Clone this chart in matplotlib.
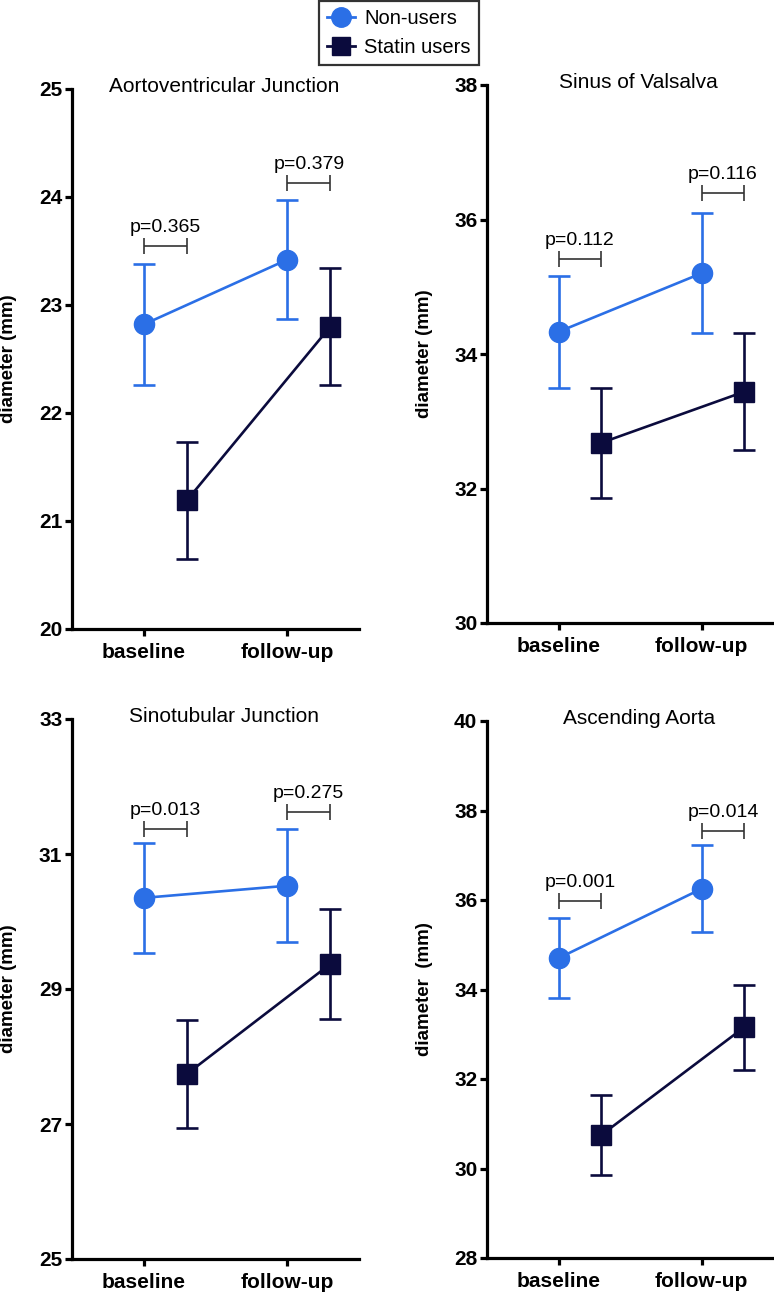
import matplotlib
matplotlib.use("Agg")
import matplotlib.pyplot as plt
from matplotlib.lines import Line2D

plt.rcParams['font.family'] = ['Liberation Sans', 'DejaVu Sans']

BLUE = '#2b6fe6'  # non-users
NAVY = '#0b0b3d'  # statin users

time_points = ['baseline', 'follow-up']
panel_titles = ['Aortoventricular Junction', 'Sinus of Valsalva',
                'Sinotubular Junction', 'Ascending Aorta']
y_labels = ['diameter (mm)', 'diameter (mm)', 'diameter (mm)', 'diameter  (mm)']

# mean +/- error per panel, [baseline, follow-up]
nonusers_mean = [[22.82, 23.42], [34.33, 35.20], [30.35, 30.53], [34.70, 36.25]]
nonusers_err = [[0.56, 0.55], [0.83, 0.89], [0.81, 0.84], [0.90, 0.97]]
statin_mean = [[21.19, 22.80], [32.68, 33.44], [27.74, 29.37], [30.75, 33.16]]
statin_err = [[0.54, 0.545], [0.82, 0.87], [0.80, 0.82], [0.89, 0.95]]

p_labels = [['p=0.365', 'p=0.379'], ['p=0.112', 'p=0.116'],
            ['p=0.013', 'p=0.275'], ['p=0.001', 'p=0.014']]
p_bracket_y = [[23.55, 24.13], [35.41, 36.39], [31.37, 31.62], [35.98, 37.54]]

y_limits = [(20, 25), (30, 38), (25, 33), (28, 40)]
y_steps = [1, 2, 2, 2]

W, H = 774, 1294
# axes rectangles in pixels: left, top, right, bottom
axes_px = [(72, 89, 359, 629), (487, 85, 773, 623),
           (72, 719, 359, 1259), (487, 721, 773, 1258)]
STATIN_SHIFT = 0.3

fig = plt.figure(figsize=(W / 100, H / 100), dpi=100)

for i in range(4):
    l, t, r, b = axes_px[i]
    ax = fig.add_axes([l / W, 1 - b / H, (r - l) / W, (b - t) / H])
    xs = list(range(len(time_points)))
    xs_statin = [x + STATIN_SHIFT for x in xs]

    ax.errorbar(xs, nonusers_mean[i], yerr=nonusers_err[i], color=BLUE,
                marker='o', markersize=14.5, lw=1.9, elinewidth=1.9,
                capsize=8, capthick=1.9, zorder=3)
    ax.errorbar(xs_statin, statin_mean[i], yerr=statin_err[i], color=NAVY,
                marker='s', markersize=14, lw=1.9, elinewidth=1.9,
                capsize=8, capthick=1.9, zorder=3)

    # p-value brackets between the two groups
    for j in range(len(time_points)):
        xc = xs[j] + STATIN_SHIFT / 2
        ax.errorbar([xc], [p_bracket_y[i][j]], xerr=[STATIN_SHIFT / 2], fmt='none',
                    ecolor='#333333', elinewidth=1.2, capsize=5.5, capthick=1.2)
        ax.annotate(p_labels[i][j], (xc, p_bracket_y[i][j]), xytext=(0, 10),
                    textcoords='offset points', ha='center', va='baseline',
                    fontsize=14)

    lo, hi = y_limits[i]
    ax.set_ylim(lo, hi)
    ax.set_yticks(range(lo, hi + 1, y_steps[i]))
    ax.set_xlim(-0.5, 1.5)
    ax.set_xticks(xs)
    ax.set_xticklabels(time_points)

    for side in ['top', 'right']:
        ax.spines[side].set_visible(False)
    for side in ['left', 'bottom']:
        ax.spines[side].set_linewidth(2.3)
    ax.tick_params(axis='both', direction='out', length=5, width=2.3, labelsize=15)
    ax.tick_params(axis='x', pad=5)
    ax.tick_params(axis='y', pad=2)
    for lab in ax.get_xticklabels() + ax.get_yticklabels():
        lab.set_fontweight('bold')

    ax.set_ylabel(y_labels[i], fontsize=13.5, fontweight='bold')
    ax.yaxis.set_label_coords(-0.19, 0.5)
    ax.text(0.53, 0.994, panel_titles[i], transform=ax.transAxes,
            ha='center', va='baseline', fontsize=15)

handles = [Line2D([], [], color=BLUE, marker='o', markersize=14, lw=2),
           Line2D([], [], color=NAVY, marker='s', markersize=13, lw=2)]
leg = fig.legend(handles, ['Non-users', 'Statin users'], loc='upper left',
                 bbox_to_anchor=(319 / W, 1 - 1 / H), borderaxespad=0,
                 fancybox=False, edgecolor='black', fontsize=14.5,
                 handlelength=1.4, handletextpad=0.45, labelspacing=0.5,
                 borderpad=0.4)
leg.get_frame().set_linewidth(1.6)

fig.savefig('out.png', dpi=100, facecolor='white')
